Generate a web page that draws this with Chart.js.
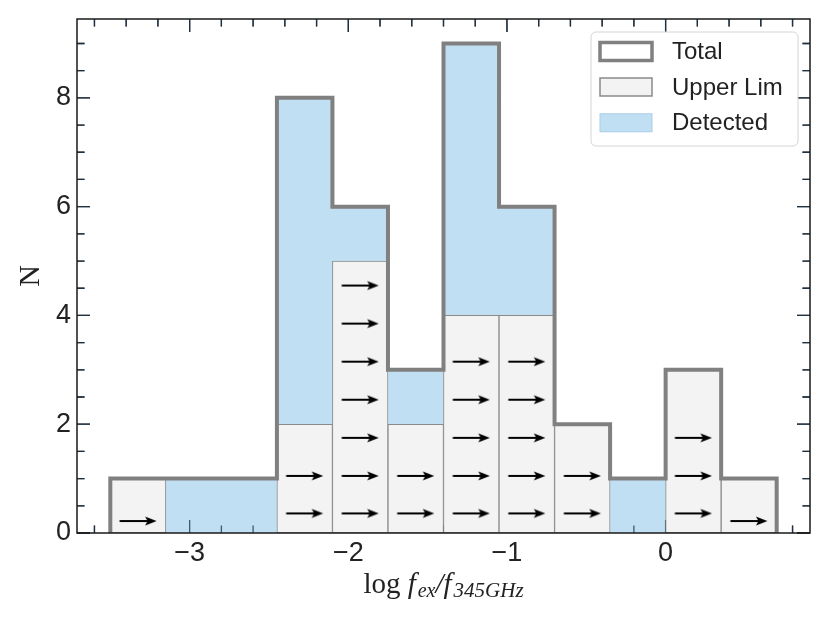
<!DOCTYPE html>
<html>
<head>
<meta charset="utf-8">
<script src="https://cdn.jsdelivr.net/npm/chart.js@4.4.0/dist/chart.umd.min.js"></script>
<style>
  html, body { margin: 0; padding: 0; background: #fff; }
  #wrap { width: 830px; height: 623px; position: relative; }
</style>
</head>
<body>
<div id="wrap"><canvas id="hist"></canvas></div>
<script>
// Bin edges of the histogram (log f_ex / f_345GHz)
const binEdges = [-3.5, -3.15, -2.8, -2.45, -2.1, -1.75, -1.4, -1.05, -0.7, -0.35, 0, 0.35, 0.7];

// Counts per bin
const upperLimCounts = [1, 0, 0, 2, 5, 2, 4, 4, 2, 0, 3, 1];
const detectedCounts = [0, 1, 1, 6, 1, 1, 5, 2, 0, 1, 0, 0];

// Upper-limit arrows (x, y in data units)
const arrowX = [-3.325,
    -2.275, -2.275,
    -1.925, -1.925, -1.925, -1.925, -1.925, -1.925, -1.925,
    -1.575, -1.575,
    -1.225, -1.225, -1.225, -1.225, -1.225,
    -0.875, -0.875, -0.875, -0.875, -0.875,
    -0.525, -0.525,
    0.175, 0.175, 0.175,
    0.525];
const arrowY = [0.22,
    0.36, 1.05,
    0.36, 1.05, 1.75, 2.45, 3.15, 3.85, 4.55,
    0.36, 1.05,
    0.36, 1.05, 1.75, 2.45, 3.15,
    0.36, 1.05, 1.75, 2.45, 3.15,
    0.36, 1.05,
    0.36, 1.05, 1.75,
    0.22];

// Axes
const xTicks = [-3, -2, -1, 0];
const yTicks = [0, 2, 4, 6, 8];
const xRange = [-3.71, 0.91];
const yRange = [0, 9.45];

// Colours
const INK = '#1a1a1a';
const TEXT = '#222222';
const OUTLINE = '#808080';
const UPPER_FILL = '#f3f3f3';
const UPPER_EDGE = '#8a8a8a';
const DETECTED_FILL = '#c1dff2';
const SANS = '"Liberation Sans", Arial, Helvetica, sans-serif';
const SERIF = '"Liberation Serif", "Times New Roman", serif';

// Derived data
const binCenters = binEdges.slice(0, -1).map((e, i) => (e + binEdges[i + 1]) / 2);
const totalCounts = upperLimCounts.map((u, i) => u + detectedCounts[i]);
const outline = [{ x: binEdges[0], y: 0 }]
    .concat(totalCounts.map((t, i) => ({ x: binEdges[i], y: t })))
    .concat([{ x: binEdges[binEdges.length - 1], y: 0 }]);

function barData(counts) {
    return counts.map((c, i) => ({ x: binCenters[i], y: c > 0 ? c : null }));
}

// Arrow marker image
function makeArrow() {
    const c = document.createElement('canvas');
    c.width = 40;
    c.height = 12;
    const g = c.getContext('2d');
    g.strokeStyle = '#000';
    g.lineWidth = 2;
    g.beginPath();
    g.moveTo(1.5, 6);
    g.lineTo(31, 6);
    g.stroke();
    g.fillStyle = '#000';
    g.beginPath();
    g.moveTo(38.5, 6);
    g.lineTo(27, 1.6);
    g.lineTo(29.5, 6);
    g.lineTo(27, 10.4);
    g.closePath();
    g.fill();
    return c;
}

function fmtTick(v) {
    return v < 0 ? '\u2212' + Math.abs(v) : String(v);
}

// inward ticks on all four sides
function drawTicks(chart, colour) {
    const { ctx, chartArea: a, scales: { x, y } } = chart;
    const MAJOR = 13, MINOR = 7.5;
    ctx.save();
    ctx.strokeStyle = colour;
    ctx.lineWidth = 1.3;
    ctx.beginPath();
    for (let k = -19; k <= 5; k++) {
        const v = k * 0.2;
        if (v < xRange[0] || v > xRange[1]) continue;
        const isMajor = Math.abs(v - Math.round(v)) < 1e-6;
        const len = isMajor ? MAJOR : MINOR;
        const px = x.getPixelForValue(v);
        ctx.moveTo(px, a.bottom);
        ctx.lineTo(px, a.bottom - len);
        ctx.moveTo(px, a.top);
        ctx.lineTo(px, a.top + len);
    }
    for (let k = 0; k <= 18; k++) {
        const v = k * 0.5;
        if (v > yRange[1]) continue;
        const len = yTicks.includes(v) ? MAJOR : MINOR;
        const py = y.getPixelForValue(v);
        ctx.moveTo(a.left, py);
        ctx.lineTo(a.left + len, py);
        ctx.moveTo(a.right, py);
        ctx.lineTo(a.right - len, py);
    }
    ctx.stroke();
    ctx.restore();
}

// Ticks, frame, legend and x title
const decorations = {
    id: 'decorations',
    beforeDatasetsDraw(chart) {
        drawTicks(chart, INK);
    },
    afterDatasetDraw(chart, args) {
        // ticks show through the detected bars, but sit below the upper limits
        if (args.index === 1) drawTicks(chart, 'rgba(30, 55, 80, 0.8)');
    },
    afterDatasetsDraw(chart) {
        const { ctx, chartArea: a } = chart;
        ctx.save();
        ctx.strokeStyle = INK;
        ctx.lineWidth = 1.5;
        ctx.strokeRect(a.left, a.top, a.right - a.left, a.bottom - a.top);
        ctx.restore();
    },
    afterDraw(chart) {
        const { ctx, chartArea: a } = chart;
        ctx.save();

        // Legend
        const box = { x: 591, y: 32, w: 207, h: 114, r: 5 };
        ctx.beginPath();
        ctx.roundRect(box.x, box.y, box.w, box.h, box.r);
        ctx.fillStyle = 'rgba(255,255,255,0.85)';
        ctx.fill();
        ctx.strokeStyle = '#d4d4d4';
        ctx.lineWidth = 1;
        ctx.stroke();

        const entries = [chart.data.datasets[2], chart.data.datasets[0], chart.data.datasets[1]];
        const rowY = [51.5, 87, 122.8];
        entries.forEach((ds, i) => {
            const cy = rowY[i];
            const px = 600, pw = 52, ph = 18;
            if (ds.type === 'line') {
                ctx.fillStyle = '#fff';
                ctx.fillRect(px, cy - ph / 2, pw, ph);
                ctx.strokeStyle = ds.borderColor;
                ctx.lineWidth = 3.5;
                ctx.strokeRect(px, cy - ph / 2, pw, ph);
            } else {
                ctx.fillStyle = ds.backgroundColor;
                ctx.fillRect(px, cy - ph / 2, pw, ph);
                ctx.strokeStyle = ds.borderWidth ? ds.borderColor : '#a9cde6';
                ctx.lineWidth = ds.borderWidth ? 1.5 : 1;
                ctx.strokeRect(px, cy - ph / 2, pw, ph);
            }
            ctx.fillStyle = TEXT;
            ctx.font = '24px ' + SANS;
            ctx.textAlign = 'left';
            ctx.textBaseline = 'middle';
            ctx.fillText(ds.label, 672, cy + 1);
        });

        // x-axis title: log f_ex / f_345GHz
        const parts = [
            { text: 'log ', style: 'normal', size: 29, dy: 0 },
            { text: 'f', style: 'italic', size: 29, dy: 0 },
            { text: 'ex', style: 'italic', size: 20, dy: 4 },
            { text: '/', style: 'italic', size: 29, dy: 0 },
            { text: 'f', style: 'italic', size: 29, dy: 0 },
            { text: '345GHz', style: 'italic', size: 21, dy: 4 }
        ];
        let total = 0;
        parts.forEach(p => {
            ctx.font = `${p.style} ${p.size}px ${SERIF}`;
            p.w = ctx.measureText(p.text).width + (p.text === 'f' ? 2 : 0);
            total += p.w;
        });
        let cx = (a.left + a.right) / 2 - total / 2;
        const baseY = 593;
        ctx.fillStyle = TEXT;
        ctx.textAlign = 'left';
        ctx.textBaseline = 'alphabetic';
        parts.forEach(p => {
            ctx.font = `${p.style} ${p.size}px ${SERIF}`;
            ctx.fillText(p.text, cx, baseY + p.dy);
            cx += p.w;
        });
        ctx.restore();
    }
};

const chart = new Chart(document.getElementById('hist'), {
    type: 'bar',
    data: {
        datasets: [
            {
                label: 'Upper Lim',
                data: barData(upperLimCounts),
                stack: 'hist',
                order: 2,
                backgroundColor: UPPER_FILL,
                borderColor: UPPER_EDGE,
                borderWidth: 1,
                borderSkipped: false,
                barPercentage: 1,
                categoryPercentage: 1
            },
            {
                label: 'Detected',
                data: barData(detectedCounts),
                stack: 'hist',
                order: 3,
                backgroundColor: DETECTED_FILL,
                borderWidth: 0,
                barPercentage: 1,
                categoryPercentage: 1
            },
            {
                type: 'line',
                label: 'Total',
                data: outline,
                order: 1,
                stepped: 'before',
                borderColor: OUTLINE,
                borderWidth: 4,
                borderJoinStyle: 'miter',
                pointRadius: 0,
                fill: false
            },
            {
                type: 'scatter',
                label: 'arrows',
                data: arrowX.map((v, i) => ({ x: v, y: arrowY[i] })),
                order: 0,
                pointStyle: makeArrow(),
                pointRadius: 10
            }
        ]
    },
    options: {
        responsive: true,
        maintainAspectRatio: false,
        animation: false,
        events: [],
        layout: { padding: { left: 0, right: 20, top: 19, bottom: 0 } },
        plugins: {
            legend: { display: false },
            tooltip: { enabled: false }
        },
        scales: {
            x: {
                type: 'linear',
                min: xRange[0],
                max: xRange[1],
                offset: false,
                grid: { display: false, drawTicks: false, offset: false },
                border: { display: false },
                afterBuildTicks: s => { s.ticks = xTicks.map(v => ({ value: v })); },
                afterFit: s => { s.height = 90; s.paddingLeft = 0; s.paddingRight = 0; },
                ticks: {
                    padding: 4,
                    autoSkip: false,
                    maxRotation: 0,
                    color: TEXT,
                    font: { family: SANS, size: 27 },
                    callback: v => fmtTick(v)
                }
            },
            y: {
                min: yRange[0],
                max: yRange[1],
                grid: { display: false, drawTicks: false },
                border: { display: false },
                afterBuildTicks: s => { s.ticks = yTicks.map(v => ({ value: v })); },
                afterFit: s => { s.width = 77; s.paddingTop = 0; s.paddingBottom = 0; },
                ticks: {
                    padding: 6,
                    color: TEXT,
                    font: { family: SANS, size: 27 },
                    callback: v => fmtTick(v)
                },
                title: {
                    display: true,
                    text: 'N',
                    color: TEXT,
                    font: { family: SERIF, size: 30 },
                    padding: { top: 13, bottom: 0 }
                }
            }
        }
    },
    plugins: [decorations]
});
</script>
</body>
</html>
